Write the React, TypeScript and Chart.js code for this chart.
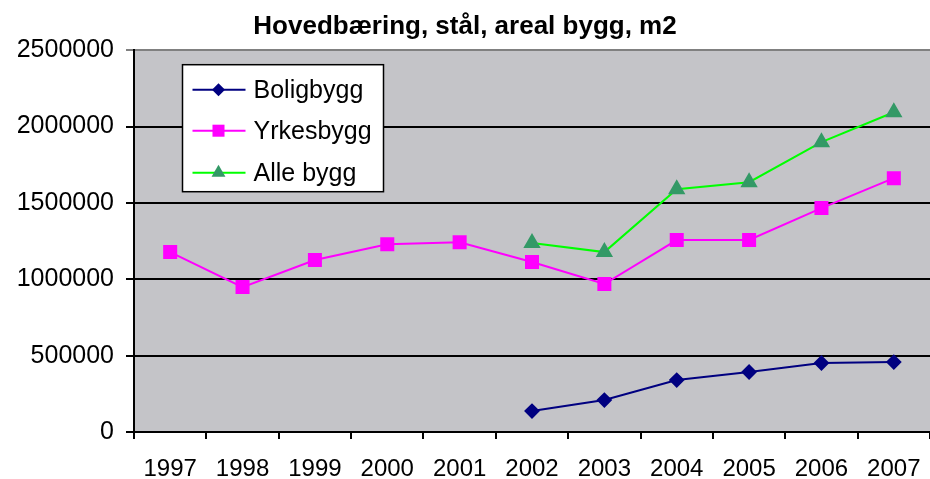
import React, { useEffect, useRef } from "react";
import { Chart, registerables } from "chart.js";

Chart.register(...registerables);

const years = ["1997", "1998", "1999", "2000", "2001", "2002", "2003", "2004", "2005", "2006", "2007"];
const boligbygg = [null, null, null, null, null, 137000, 209000, 340000, 393000, 452000, 458000];
const yrkesbygg = [1178000, 949000, 1126000, 1230000, 1243000, 1113000, 969000, 1257000, 1257000, 1466000, 1662000];
const alleBygg = [null, null, null, null, null, 1237000, 1178000, 1590000, 1636000, 1898000, 2094000];
const titleText = "Hovedbæring, stål, areal bygg, m2";
const yMax = 2500000;
const yStep = 500000;

const FONT = "'Liberation Sans', Arial, sans-serif";

function drawMarker(ctx: CanvasRenderingContext2D, style: string, x: number, y: number, r: number, fill: string) {
  ctx.save();
  ctx.fillStyle = fill;
  ctx.strokeStyle = fill;
  ctx.lineWidth = 1;
  ctx.beginPath();
  if (style === "rectRot") {
    ctx.moveTo(x, y - r);
    ctx.lineTo(x + r, y);
    ctx.lineTo(x, y + r);
    ctx.lineTo(x - r, y);
  } else if (style === "rect") {
    const s = Math.SQRT1_2 * r;
    ctx.rect(x - s, y - s, 2 * s, 2 * s);
  } else {
    const c = Math.cos(Math.PI / 6) * r;
    ctx.moveTo(x, y - r);
    ctx.lineTo(x + c, y + r / 2);
    ctx.lineTo(x - c, y + r / 2);
  }
  ctx.closePath();
  ctx.fill();
  ctx.restore();
}

const plotBg = {
  id: "plotBg",
  beforeDraw(chart: any) {
    const { ctx, chartArea } = chart;
    ctx.save();
    ctx.fillStyle = "#c4c4c8";
    ctx.fillRect(chartArea.left, chartArea.top, chartArea.right - chartArea.left, chartArea.bottom - chartArea.top);
    ctx.restore();
  },
};

const boxLegend = {
  id: "boxLegend",
  afterDraw(chart: any) {
    const { ctx, chartArea } = chart;
    const bx = chartArea.left + 48.5;
    const by = chartArea.top + 14.5;
    const bw = 201;
    const bh = 127;
    ctx.save();
    ctx.fillStyle = "#ffffff";
    ctx.fillRect(bx, by, bw, bh);
    ctx.strokeStyle = "#000000";
    ctx.lineWidth = 1.5;
    ctx.strokeRect(bx, by, bw, bh);
    const rows = [25, 66, 108];
    chart.data.datasets.forEach((ds: any, i: number) => {
      const y = by + rows[i];
      ctx.strokeStyle = ds.borderColor;
      ctx.lineWidth = 2;
      ctx.beginPath();
      ctx.moveTo(bx + 10, y);
      ctx.lineTo(bx + 63, y);
      ctx.stroke();
      drawMarker(ctx, ds.pointStyle, bx + 36, y, ds.pointRadius, ds.pointBackgroundColor);
      ctx.fillStyle = "#000000";
      ctx.font = `25px ${FONT}`;
      ctx.textBaseline = "middle";
      ctx.textAlign = "left";
      ctx.fillText(ds.label, bx + 71, y + 1);
    });
    ctx.restore();
  },
};

export default function App() {
  const ref = useRef<HTMLCanvasElement | null>(null);
  useEffect(() => {
    document.body.style.margin = "0";
    const canvas = ref.current!;
    const chart = new Chart(canvas, {
      type: "line",
      data: {
        labels: years,
        datasets: [
          {
            label: "Boligbygg",
            data: boligbygg,
            borderColor: "#000080",
            backgroundColor: "#000080",
            pointBackgroundColor: "#000080",
            pointBorderColor: "#000080",
            pointStyle: "rectRot",
            pointRadius: 6.5,
            borderWidth: 2,
            tension: 0,
          },
          {
            label: "Yrkesbygg",
            data: yrkesbygg,
            borderColor: "#ff00ff",
            backgroundColor: "#ff00ff",
            pointBackgroundColor: "#ff00ff",
            pointBorderColor: "#ff00ff",
            pointStyle: "rect",
            pointRadius: 8.5,
            borderWidth: 2,
            tension: 0,
          },
          {
            label: "Alle bygg",
            data: alleBygg,
            borderColor: "#00ff00",
            backgroundColor: "#339966",
            pointBackgroundColor: "#339966",
            pointBorderColor: "#339966",
            pointStyle: "triangle",
            pointRadius: 8,
            borderWidth: 2,
            tension: 0,
          },
        ] as any,
      },
      options: {
        animation: false,
        responsive: false,
        devicePixelRatio: 1,
        layout: { padding: 0, autoPadding: false },
        plugins: {
          legend: { display: false },
          tooltip: { enabled: false },
          title: {
            display: true,
            text: titleText,
            color: "#000000",
            font: { family: FONT, size: 26, weight: "bold", lineHeight: 1.2 },
            padding: { top: 11, bottom: 8 },
          },
        },
        scales: {
          x: {
            offset: true,
            grid: {
              display: true,
              offset: true,
              drawOnChartArea: false,
              drawTicks: true,
              tickLength: 7,
              color: "#000000",
              lineWidth: 2,
            },
            border: { display: true, color: "#000000", width: 2 },
            ticks: {
              color: "#000000",
              font: { family: FONT, size: 24 },
              padding: 16,
              maxRotation: 0,
              autoSkip: false,
            },
            afterFit: (scale: any) => {
              scale.height = 47;
              scale.paddingRight = 0;
              scale.paddingLeft = 0;
            },
          },
          y: {
            min: 0,
            max: yMax,
            grid: {
              color: (c: any) => (c.tick && c.tick.value === yMax ? "#808080" : "#000000"),
              lineWidth: 2,
              drawTicks: true,
              tickLength: 8,
            },
            border: { display: true, color: "#000000", width: 2 },
            ticks: {
              stepSize: yStep,
              color: "#000000",
              font: { family: FONT, size: 25 },
              padding: 12,
              callback: (v: any) => String(v),
            },
            afterFit: (scale: any) => {
              scale.width = 134;
            },
          },
        },
      },
      plugins: [plotBg, boxLegend],
    });
    return () => chart.destroy();
  }, []);
  return (
    <div style={{ position: "absolute", left: 0, top: 0, width: 930, height: 479, background: "#ffffff" }}>
      <canvas ref={ref} width={930} height={479} style={{ width: 930, height: 479 }} />
    </div>
  );
}
